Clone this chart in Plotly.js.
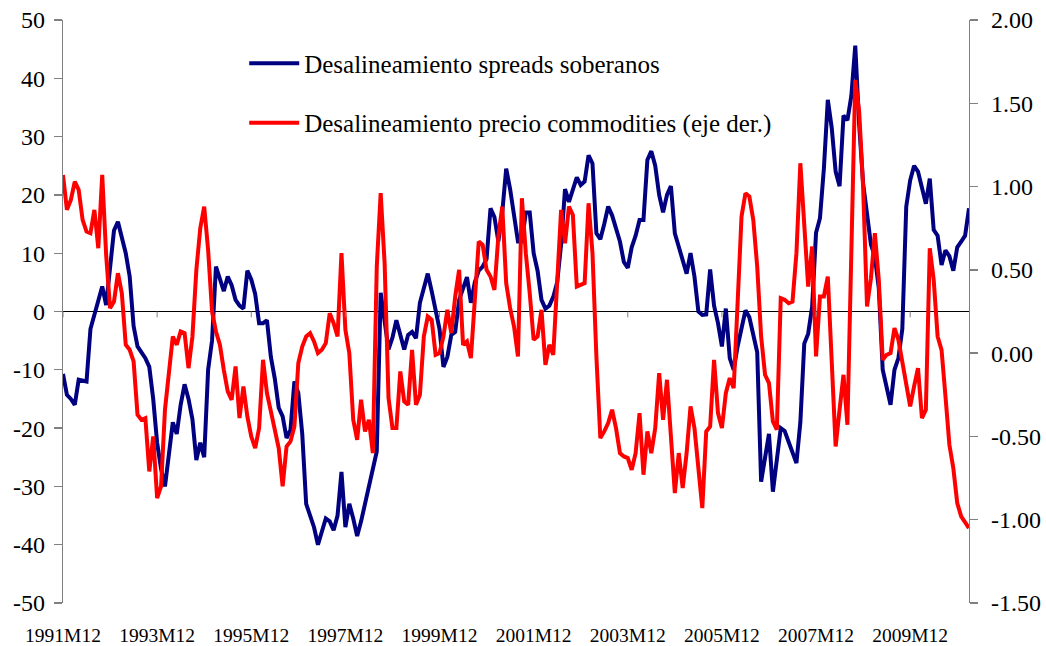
<!DOCTYPE html>
<html><head><meta charset="utf-8">
<script src="https://cdn.plot.ly/plotly-3.0.1.min.js"></script>
<style>html,body{margin:0;padding:0;background:#fff;} #chart{width:1046px;height:646px;}</style>
</head><body><div id="chart"></div>
<script>
// Monthly series, 1991M12 .. 2011M3
const startYear = 1991, startMonth = 12;
const spreads = [
-10.7,-14.3,-15.0,-16.0,-11.7,-11.8,-12.0,-3.0,-0.5,2.0,4.3,1.1,
8.0,13.9,15.4,13.0,10.0,6.0,-2.5,-6.0,-7.0,-8.0,-9.5,-15.0,
-22.5,-27.0,-30.0,-24.0,-19.0,-21.0,-16.0,-12.5,-15.0,-18.5,-25.5,-22.5,
-25.0,-10.0,-5.0,7.7,5.5,3.5,6.0,4.5,2.0,1.0,0.5,7.0,
5.5,3.0,-2.0,-2.0,-1.5,-7.8,-11.5,-16.5,-18.0,-21.7,-20.3,-12.0,
-14.0,-21.0,-33.0,-35.0,-37.0,-40.0,-38.0,-35.5,-36.0,-37.5,-35.0,-27.5,
-37.0,-33.0,-35.5,-38.5,-36.0,-33.0,-30.6,-27.2,-24.0,3.2,-2.0,-6.5,
-4.5,-1.5,-4.0,-6.5,-4.0,-3.5,-4.6,1.5,4.0,6.5,3.5,0.0,
-3.0,-9.5,-7.8,-4.0,-3.5,2.0,4.0,5.9,1.5,5.0,7.0,7.7,
9.0,17.7,16.2,12.0,17.0,24.5,21.0,16.0,12.0,12.0,17.0,17.0,
10.0,7.0,2.0,0.5,1.0,2.5,5.0,11.5,21.0,18.8,21.0,23.0,
21.7,22.3,26.8,25.4,13.4,12.4,15.0,18.0,16.5,14.0,12.0,8.5,
7.5,11.0,13.0,15.7,15.7,26.0,27.5,25.0,20.0,17.0,20.0,21.5,
13.4,11.1,9.0,6.5,10.0,6.0,0.0,-0.6,-0.5,7.2,1.0,-2.0,
-6.0,0.5,-8.0,-10.0,-6.0,-3.0,0.2,-1.0,-4.0,-7.0,-29.2,-25.0,
-21.0,-30.9,-25.0,-20.0,-20.5,-22.5,-24.0,-26.0,-19.0,-5.5,-3.8,0.8,
13.5,16.0,24.5,36.3,31.5,24.0,21.5,33.6,32.8,37.0,45.6,32.0,
22.0,16.0,11.5,9.4,4.0,-10.0,-12.9,-16.0,-10.0,-8.0,-3.0,18.0,
22.5,25.0,24.0,21.5,18.5,22.8,14.0,13.0,8.0,10.5,9.5,7.0,
11.0,12.0,13.0,17.7
];
const commodities = [
1.07,0.86,0.92,1.03,0.98,0.80,0.73,0.72,0.86,0.63,1.07,0.59,
0.27,0.31,0.48,0.36,0.05,0.02,-0.05,-0.37,-0.40,-0.39,-0.71,-0.50,
-0.87,-0.80,-0.34,-0.10,0.10,0.05,0.13,0.12,-0.09,0.10,0.50,0.75,
0.88,0.62,0.25,0.13,0.05,-0.10,-0.23,-0.28,-0.08,-0.39,-0.20,-0.38,
-0.50,-0.57,-0.45,-0.04,-0.24,-0.35,-0.47,-0.57,-0.80,-0.56,-0.53,-0.44,
-0.06,0.04,0.10,0.12,0.07,0.00,0.02,0.06,0.24,0.18,0.10,0.60,
0.14,0.00,-0.40,-0.52,-0.28,-0.47,-0.40,-0.60,0.52,0.96,0.54,-0.27,
-0.45,-0.45,-0.11,-0.29,-0.31,0.02,-0.31,-0.25,0.10,0.22,0.20,-0.01,
0.00,0.10,0.26,0.12,0.34,0.50,0.05,0.07,-0.03,0.32,0.67,0.65,
0.50,0.46,0.38,0.70,0.88,0.42,0.27,0.16,-0.02,0.93,0.60,0.36,
0.08,0.10,0.26,-0.07,0.05,-0.01,0.45,0.86,0.66,0.88,0.83,0.40,
0.41,0.42,0.90,0.60,-0.02,-0.51,-0.47,-0.42,-0.34,-0.45,-0.60,-0.62,
-0.63,-0.70,-0.60,-0.36,-0.73,-0.47,-0.60,-0.45,-0.12,-0.40,-0.16,-0.50,
-0.84,-0.60,-0.81,-0.60,-0.32,-0.45,-0.70,-0.93,-0.47,-0.44,-0.04,-0.36,
-0.45,-0.24,-0.15,-0.21,0.30,0.82,0.96,0.94,0.80,0.52,0.10,-0.13,
-0.18,-0.41,-0.46,0.33,0.32,0.30,0.31,0.60,1.14,0.75,0.40,0.64,
-0.02,0.34,0.34,0.46,0.00,-0.56,-0.34,-0.13,-0.43,0.50,1.64,1.45,
1.00,0.28,0.45,0.72,0.44,-0.04,-0.01,0.00,0.15,0.08,-0.05,-0.20,
-0.32,-0.20,-0.09,-0.39,-0.34,0.63,0.44,0.10,0.02,-0.26,-0.55,-0.69,
-0.90,-0.98,-1.02,-1.05
];
const xTickLabels = ["1991M12","1993M12","1995M12","1997M12","1999M12","2001M12","2003M12","2005M12","2007M12","2009M12"];
const leftTickVals = [50,40,30,20,10,0,-10,-20,-30,-40,-50];
const leftTickText = ["50","40","30","20","10","0","-10","-20","-30","-40","-50"];
const rightTickVals = [2,1.5,1,0.5,0,-0.5,-1,-1.5];
const rightTickText = ["2.00","1.50","1.00","0.50","0.00","-0.50","-1.00","-1.50"];
const seriesNames = ["Desalineamiento spreads soberanos","Desalineamiento precio commodities (eje der.)"];

// month category labels
const months = spreads.map((_, i) => {
  const m0 = (startMonth - 1) + i;
  const y = startYear + Math.floor(m0 / 12);
  const m = (m0 % 12) + 1;
  return y + "M" + m;
});

const FONT = "'Times New Roman', 'Liberation Serif', serif";

const traces = [
  {x: months, y: spreads, type: 'scatter', mode: 'lines', name: seriesNames[0],
   legendgroup: 'a', line: {color: '#000080', width: 4}, yaxis: 'y', xaxis: 'x'},
  {x: months, y: commodities, type: 'scatter', mode: 'lines', name: seriesNames[1],
   legendgroup: 'b', line: {color: '#FF0000', width: 4}, yaxis: 'y2', xaxis: 'x'}
];

const shapes = xTickLabels.map(c => ({
  type: 'line', xref: 'x', yref: 'y', x0: c, x1: c, y0: 0, y1: -1,
  line: {color: '#808080', width: 1}
}));

const layout = {
  width: 1046, height: 646,
  margin: {l: 63, r: 77, t: 20, b: 43},
  paper_bgcolor: '#fff', plot_bgcolor: '#fff',
  font: {family: FONT, color: '#000'},
  showlegend: true,
  legend: {x: 0.2, xanchor: 'left', y: 0.965, yanchor: 'top',
           font: {family: FONT, size: 25, color: '#000'},
           bgcolor: 'rgba(0,0,0,0)', borderwidth: 0,
           traceorder: 'grouped', tracegroupgap: 24, itemwidth: 50},
  xaxis: {type: 'category', categoryorder: 'array', categoryarray: months,
          range: [0, months.length - 1], tickmode: 'array', tickvals: xTickLabels, ticktext: xTickLabels,
          showline: false, ticks: '', showgrid: false, zeroline: false,
          tickfont: {family: FONT, size: 19.5, color: '#000'}, ticklabelstandoff: 18},
  yaxis: {range: [-50, 50], tickmode: 'array', tickvals: leftTickVals, ticktext: leftTickText,
          showline: true, linecolor: '#808080', linewidth: 1.3, ticks: 'outside', ticklen: 8,
          tickcolor: '#808080', tickwidth: 1.3, showgrid: false,
          zeroline: true, zerolinecolor: '#000', zerolinewidth: 1.2,
          tickfont: {family: FONT, size: 24, color: '#000'}, ticklabelstandoff: 4},
  yaxis2: {range: [-1.5, 2], overlaying: 'y', side: 'right', tickmode: 'array',
           tickvals: rightTickVals, ticktext: rightTickText,
           showline: true, linecolor: '#808080', linewidth: 1.3, ticks: 'outside', ticklen: 8,
           tickcolor: '#808080', tickwidth: 1.3, showgrid: false, zeroline: false,
           tickfont: {family: FONT, size: 24, color: '#000'}, ticklabelstandoff: 8},
  shapes: shapes
};

Plotly.newPlot('chart', traces, layout, {staticPlot: true, displayModeBar: false});
</script>
</body></html>
